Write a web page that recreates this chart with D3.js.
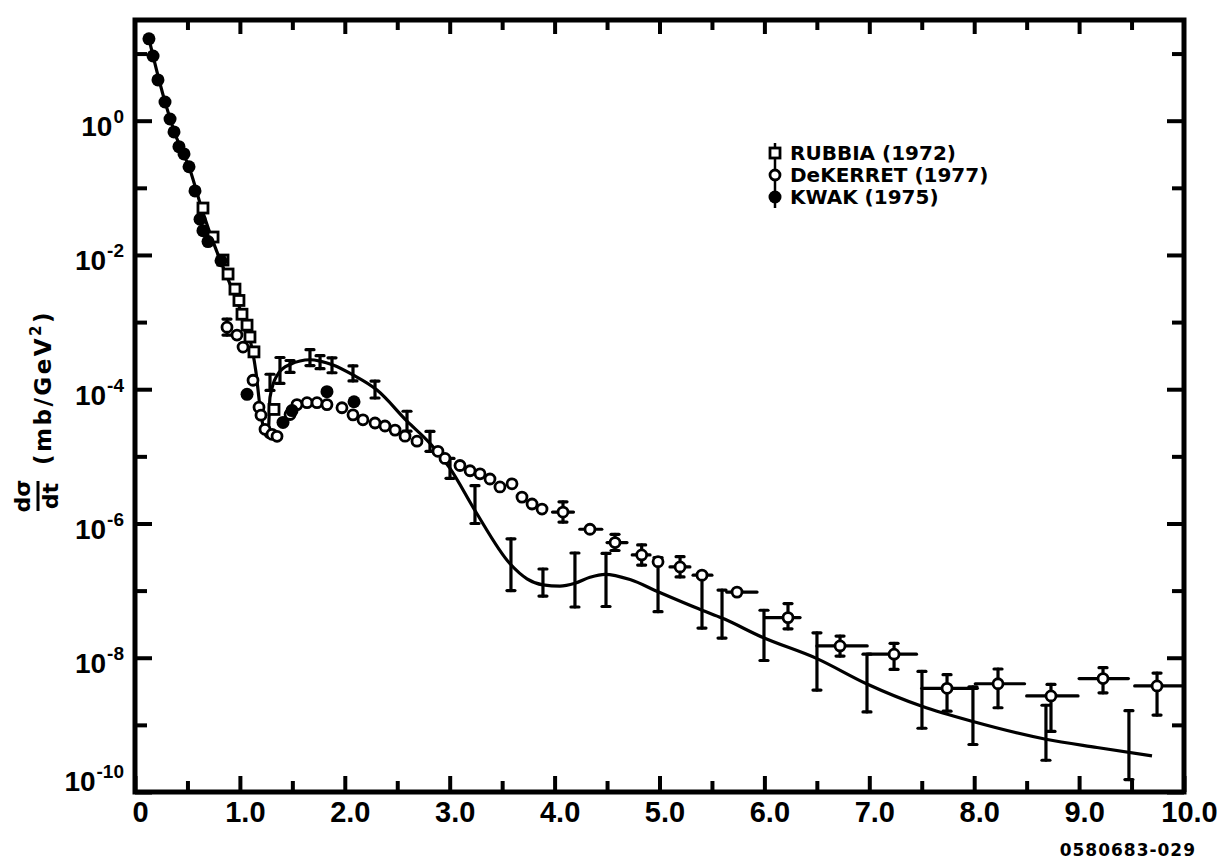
<!DOCTYPE html>
<html>
<head>
<meta charset="utf-8">
<script src="https://cdn.jsdelivr.net/npm/d3@7"></script>
<style>
  body { margin: 0; background: #fff; }
  text { font-family: "Liberation Sans", Arial, sans-serif; font-weight: bold; fill: #000; }
  .lbl { font-family: "DejaVu Sans", sans-serif; }
</style>
</head>
<body>
<svg id="chart" width="1217" height="868"></svg>
<script>
//------------------------ data (t in GeV^2, dsigma/dt in mb/GeV^2)

// KWAK (1975), filled circles
const kwakT = [0.133, 0.172, 0.219, 0.286, 0.334, 0.372, 0.419, 0.467, 0.515, 0.572, 0.620, 0.648, 0.696, 0.820,
               1.068, 1.411, 1.497, 1.830, 2.088]
const kwakV = [16.6, 9.2, 4.05, 1.9, 1.06, 0.68, 0.41, 0.32, 0.206, 0.090, 0.034, 0.023, 0.0158, 0.0082,
               8.4e-5, 3.2e-5, 4.8e-5, 9.2e-5, 6.5e-5]

// RUBBIA (1972), open squares
const rubT = [0.648, 0.744, 0.839, 0.887, 0.953, 0.991, 1.020, 1.068, 1.096, 1.134, 1.325]
const rubV = [0.050, 0.0185, 0.0084, 0.0052, 0.0031, 0.0021, 0.00131, 9.0e-4, 6.0e-4, 3.6e-4, 5.0e-5]

// DeKERRET (1977), open circles (null = error inside the marker)
const dekT = [0.877, 0.972, 1.030, 1.125, 1.182, 1.201, 1.239, 1.306, 1.354, 1.478, 1.544, 1.640, 1.735, 1.830,
              1.973, 2.078, 2.173, 2.288, 2.383, 2.479, 2.574, 2.688, 2.888, 2.955, 3.098, 3.194, 3.289, 3.384,
              3.479, 3.594, 3.689, 3.785, 3.880, 4.080, 4.337, 4.576, 4.830, 4.986, 5.196, 5.405, 5.739, 6.225,
              6.721, 7.236, 7.741, 8.227, 8.732, 9.228, 9.743]
const dekV = [8.4e-4, 6.4e-4, 4.25e-4, 1.36e-4, 5.4e-5, 4.1e-5, 2.53e-5, 2.13e-5, 1.99e-5, 4.2e-5, 5.9e-5, 6.3e-5, 6.3e-5, 5.9e-5,
              5.3e-5, 4.15e-5, 3.5e-5, 3.14e-5, 2.83e-5, 2.46e-5, 2.0e-5, 1.68e-5, 1.19e-5, 9.3e-6, 7.3e-6, 6.1e-6, 5.5e-6, 4.6e-6,
              3.5e-6, 3.9e-6, 2.47e-6, 1.95e-6, 1.64e-6, 1.48e-6, 8.2e-7, 5.2e-7, 3.4e-7, 2.7e-7, 2.25e-7, 1.7e-7, 9.5e-8, 3.96e-8,
              1.5e-8, 1.13e-8, 3.5e-9, 4.1e-9, 2.7e-9, 4.9e-9, 3.8e-9]
const dekLo = [6.4e-4, null, null, null, null, null, null, null, null, null, null, null, null, null,
               null, null, null, null, null, null, null, null, null, null, null, null, null, null,
               null, null, null, null, null, 1.05e-6, null, 3.96e-7, 2.4e-7, null, 1.6e-7, null, null, 2.7e-8,
               1.06e-8, 6.7e-9, 1.6e-9, 1.8e-9, 8e-10, 3.0e-9, 1.4e-9]
const dekHi = [1.11e-3, null, null, null, null, null, null, null, null, null, null, null, null, null,
               null, null, null, null, null, null, null, null, null, null, null, null, null, null,
               null, null, null, null, null, 2.1e-6, null, 6.9e-7, 4.8e-7, null, 3.2e-7, null, null, 6.4e-8,
               2.1e-8, 1.64e-8, 5.6e-9, 6.8e-9, 4.0e-9, 7.1e-9, 5.9e-9]
const dekTLo = [null, null, null, null, null, null, null, null, null, null, null, null, null, null,
                null, null, null, null, null, null, null, null, null, null, null, null, null, null,
                null, null, null, null, null, 3.98, 4.24, 4.50, 4.74, null, 5.10, 5.32, 5.64, 6.01,
                6.50, 6.99, 7.50, 8.01, 8.50, 9.00, 9.53]
const dekTHi = [null, null, null, null, null, null, null, null, null, null, null, null, null, null,
                null, null, null, null, null, null, null, null, null, null, null, null, null, null,
                null, null, null, null, null, 4.18, 4.45, 4.69, 4.91, null, 5.29, 5.50, 5.93, 6.34,
                6.98, 7.45, 8.03, 8.48, 8.99, 9.47, 9.99]

// error bars drawn without a marker (along the solid curve)
const barT  = [1.287, 1.382, 1.478, 1.668, 1.764, 1.878, 2.078, 2.288, 2.593, 2.812, 3.003, 3.241, 3.584,
               3.889, 4.194, 4.490, 4.986, 5.405, 5.596, 5.996, 6.501, 6.978, 7.502, 7.988, 8.684, 9.475]
const barHi = [1.67e-4, 2.97e-4, 2.68e-4, 3.88e-4, 3.16e-4, 2.94e-4, 2.22e-4, 1.32e-4, 4.7e-5, 2.35e-5, 9.3e-6, 3.66e-6, 5.9e-7,
               2.1e-7, 3.63e-7, 3.58e-7, 3.1e-7, 1.83e-7, 1.02e-7, 5.1e-8, 2.35e-8, 1.13e-8, 6.25e-9, 3.7e-9, 1.96e-9, 1.63e-9]
const barLo = [9.6e-5, 1.22e-4, 1.78e-4, 2.25e-4, 2.02e-4, 1.76e-4, 1.33e-4, 7.4e-5, 2.37e-5, 1.19e-5, 4.7e-6, 1.0e-6, 1.0e-7,
               8.3e-8, 5.7e-8, 5.8e-8, 4.85e-8, 2.77e-8, 1.96e-8, 9.1e-9, 3.3e-9, 1.56e-9, 8.9e-10, 5.1e-10, 2.97e-10, 1.53e-10]

// solid curve
const fitT = [0.133, 0.172, 0.286, 0.382, 0.524, 0.648, 0.763, 0.858, 1.001, 1.096, 1.153, 1.192, 1.239, 1.268,
              1.287, 1.373, 1.478, 1.668, 1.764, 1.888, 2.078, 2.307, 2.593, 2.812, 3.003, 3.241, 3.575, 3.737,
              3.889, 4.051, 4.194, 4.337, 4.480, 4.719, 4.986, 5.405, 5.596, 5.987, 6.501, 6.978, 7.502, 7.988,
              8.684, 9.171, 9.695]
const fitV = [16.6, 9.25, 1.91, 0.638, 0.186, 0.0425, 0.0132, 0.0056, 1.57e-3, 5.6e-4, 1.81e-4, 5.4e-5, 2.16e-5, 1.92e-5,
              7.6e-5, 1.78e-4, 2.34e-4, 2.75e-4, 2.62e-4, 2.29e-4, 1.63e-4, 9.7e-5, 3.34e-5, 1.56e-5, 6.6e-6, 1.56e-6, 2.51e-7, 1.5e-7,
              1.22e-7, 1.17e-7, 1.29e-7, 1.58e-7, 1.75e-7, 1.46e-7, 9.6e-8, 5.1e-8, 3.9e-8, 2.0e-8, 9.7e-9, 4.06e-9, 1.89e-9, 1.12e-9,
              6.1e-10, 4.6e-10, 3.46e-10]

// axes
const xMajor = [0, 1, 2, 3, 4, 5, 6, 7, 8, 9, 10]
const xMinor = [0.5, 1.5, 2.5, 3.5, 4.5, 5.5, 6.5, 7.5, 8.5, 9.5]
const xLabels = ["0", "1.0", "2.0", "3.0", "4.0", "5.0", "6.0", "7.0", "8.0", "9.0", "10.0"]
const yMajorExp = [0, -2, -4, -6, -8, -10]
const yMinorExp = [1, -1, -3, -5, -7, -9]
const legendNames = ["RUBBIA (1972)", "DeKERRET (1977)", "KWAK (1975)"]

//------------------------ dimensions

const dims = { width: 1217, height: 868, left: 135, right: 1184, top: 20, bottom: 792 }

const svg = d3.select("#chart")
svg.append("rect").attr("width", dims.width).attr("height", dims.height).attr("fill", "#fff")

const x = d3.scaleLinear().domain([0, 10]).range([dims.left, dims.right])
const y = d3.scaleLog().domain([1e-10, Math.pow(10, 1.5)]).range([dims.bottom, dims.top])

//------------------------ ticks

function styleAxis(g) {
  g.select(".domain").remove()
  g.selectAll(".tick line").attr("stroke", "#000").attr("stroke-width", 4)
}

svg.append("g").attr("transform", `translate(0,${dims.bottom})`)
  .call(d3.axisBottom(x).tickValues(xMinor).tickSize(-11).tickFormat(""))
  .call(styleAxis)
const xAxis = svg.append("g").attr("transform", `translate(0,${dims.bottom})`)
  .call(d3.axisBottom(x).tickValues(xMajor).tickSize(-16).tickPadding(9).tickFormat((d, i) => xLabels[i]))
  .call(styleAxis)
xAxis.selectAll(".tick text")
  .attr("font-size", 29).attr("font-family", null).attr("dx", 5)

svg.append("g").attr("transform", `translate(0,${dims.top})`)
  .call(d3.axisTop(x).tickValues(xMinor).tickSize(-10).tickFormat(""))
  .call(styleAxis)
svg.append("g").attr("transform", `translate(0,${dims.top})`)
  .call(d3.axisTop(x).tickValues(xMajor.slice(1, -1)).tickSize(-14).tickFormat(""))
  .call(styleAxis)

const yMajor = yMajorExp.map(e => Math.pow(10, e))
const yMinor = yMinorExp.map(e => Math.pow(10, e))

const yAxis = svg.append("g").attr("transform", `translate(${dims.left},0)`)
  .call(d3.axisLeft(y).tickValues(yMajor).tickSize(-17).tickFormat(""))
  .call(styleAxis)
svg.append("g").attr("transform", `translate(${dims.left},0)`)
  .call(d3.axisLeft(y).tickValues(yMinor).tickSize(-12).tickFormat(""))
  .call(styleAxis)
svg.append("g").attr("transform", `translate(${dims.right},0)`)
  .call(d3.axisRight(y).tickValues(yMajor).tickSize(-17).tickFormat(""))
  .call(styleAxis)
svg.append("g").attr("transform", `translate(${dims.right},0)`)
  .call(d3.axisRight(y).tickValues(yMinor).tickSize(-12).tickFormat(""))
  .call(styleAxis)

// y tick labels 10^n
yAxis.selectAll(".tick").each(function(d, i) {
  const e = yMajorExp[i]
  const t = d3.select(this).append("text")
    .attr("x", -11).attr("y", e === -10 ? -2 : 15)
    .attr("text-anchor", "end")
  t.append("tspan").attr("font-size", 28).text("10")
  t.append("tspan").attr("font-size", 19).attr("dy", -13).attr("dx", 1).text(e === 0 ? "0" : "-" + (-e))
})

// frame
svg.append("rect")
  .attr("x", dims.left).attr("y", dims.top)
  .attr("width", dims.right - dims.left).attr("height", dims.bottom - dims.top)
  .attr("fill", "none").attr("stroke", "#000").attr("stroke-width", 5)

//------------------------ curve

const fit = fitT.map((t, i) => ({ t: t, v: fitV[i] }))
const line = d3.line().x(d => x(d.t)).y(d => y(d.v)).curve(d3.curveMonotoneX)
svg.append("path").attr("d", line(fit))
  .attr("fill", "none").attr("stroke", "#000").attr("stroke-width", 3.2)

//------------------------ error bars without marker

const capW = 4
const bars = svg.append("g").attr("stroke", "#000").attr("stroke-width", 3.2).attr("stroke-linecap", "round")
barT.forEach((t, i) => {
  const bx = x(t)
  bars.append("line").attr("x1", bx).attr("x2", bx).attr("y1", y(barHi[i])).attr("y2", y(barLo[i]))
  bars.append("line").attr("x1", bx - capW).attr("x2", bx + capW).attr("y1", y(barHi[i])).attr("y2", y(barHi[i]))
  bars.append("line").attr("x1", bx - capW).attr("x2", bx + capW).attr("y1", y(barLo[i])).attr("y2", y(barLo[i]))
})

//------------------------ DeKERRET

const dek = dekT.map((t, i) => ({ t: t, v: dekV[i], lo: dekLo[i], hi: dekHi[i], tlo: dekTLo[i], thi: dekTHi[i] }))
const dekErr = svg.append("g").attr("stroke", "#000").attr("stroke-width", 3.2).attr("stroke-linecap", "round")
dek.forEach(d => {
  if (d.lo !== null) {
    dekErr.append("line").attr("x1", x(d.t)).attr("x2", x(d.t)).attr("y1", y(d.hi)).attr("y2", y(d.lo))
    dekErr.append("line").attr("x1", x(d.t) - capW).attr("x2", x(d.t) + capW).attr("y1", y(d.hi)).attr("y2", y(d.hi))
    dekErr.append("line").attr("x1", x(d.t) - capW).attr("x2", x(d.t) + capW).attr("y1", y(d.lo)).attr("y2", y(d.lo))
  }
  if (d.tlo !== null) {
    dekErr.append("line").attr("x1", x(d.tlo)).attr("x2", x(d.thi)).attr("y1", y(d.v)).attr("y2", y(d.v))
  }
})
svg.append("g").selectAll("circle")
  .data(dek)
  .join("circle")
  .attr("cx", d => x(d.t)).attr("cy", d => y(d.v)).attr("r", 5)
  .attr("fill", "#fff").attr("stroke", "#000").attr("stroke-width", 2.8)

//------------------------ RUBBIA

const rub = rubT.map((t, i) => ({ t: t, v: rubV[i] }))
svg.append("g").selectAll("rect")
  .data(rub)
  .join("rect")
  .attr("x", d => x(d.t) - 5).attr("y", d => y(d.v) - 5).attr("width", 10).attr("height", 10)
  .attr("fill", "#fff").attr("stroke", "#000").attr("stroke-width", 2.8)

//------------------------ KWAK

const kwak = kwakT.map((t, i) => ({ t: t, v: kwakV[i] }))
svg.append("g").selectAll("circle")
  .data(kwak)
  .join("circle")
  .attr("cx", d => x(d.t)).attr("cy", d => y(d.v)).attr("r", 6.5)
  .attr("fill", "#000")

//------------------------ legend

const legend = svg.append("g").attr("transform", "translate(775,153)")
const rowH = 22
legend.append("line").attr("x1", 0).attr("x2", 0).attr("y1", -10).attr("y2", 2 * rowH + 11)
  .attr("stroke", "#000").attr("stroke-width", 2.5)
legend.append("rect").attr("x", -5).attr("y", -5).attr("width", 10).attr("height", 10)
  .attr("fill", "#fff").attr("stroke", "#000").attr("stroke-width", 2.8)
legend.append("circle").attr("cx", 0).attr("cy", rowH).attr("r", 5)
  .attr("fill", "#fff").attr("stroke", "#000").attr("stroke-width", 2.8)
legend.append("circle").attr("cx", 0).attr("cy", 2 * rowH).attr("r", 6.5).attr("fill", "#000")
legend.selectAll("text.leg")
  .data(legendNames)
  .join("text")
  .attr("class", "leg lbl")
  .attr("x", 15).attr("y", (d, i) => i * rowH + 7)
  .attr("font-size", 20)
  .text(d => d)

//------------------------ y title

const title = svg.append("g").attr("class", "lbl")
title.append("text")
  .attr("class", "lbl")
  .attr("transform", "translate(30,496) rotate(-90)")
  .attr("font-size", 22).attr("text-anchor", "middle")
  .text("dσ")
title.append("line")
  .attr("x1", 38).attr("x2", 38).attr("y1", 481).attr("y2", 511)
  .attr("stroke", "#000").attr("stroke-width", 3)
title.append("text")
  .attr("class", "lbl")
  .attr("transform", "translate(58,496) rotate(-90)")
  .attr("font-size", 22).attr("text-anchor", "middle")
  .text("dt")
const unit = title.append("text")
  .attr("class", "lbl")
  .attr("transform", "translate(51,465) rotate(-90)")
  .attr("font-size", 23).attr("letter-spacing", 2.5)
unit.append("tspan").text("(mb/GeV")
unit.append("tspan").attr("font-size", 15).attr("dy", -10).text("2")
unit.append("tspan").attr("dy", 10).text(")")

//------------------------ figure code

svg.append("text")
  .attr("class", "lbl")
  .attr("x", 1196).attr("y", 856)
  .attr("text-anchor", "end")
  .attr("font-size", 17).attr("letter-spacing", 1)
  .text("0580683-029")
</script>
</body>
</html>
